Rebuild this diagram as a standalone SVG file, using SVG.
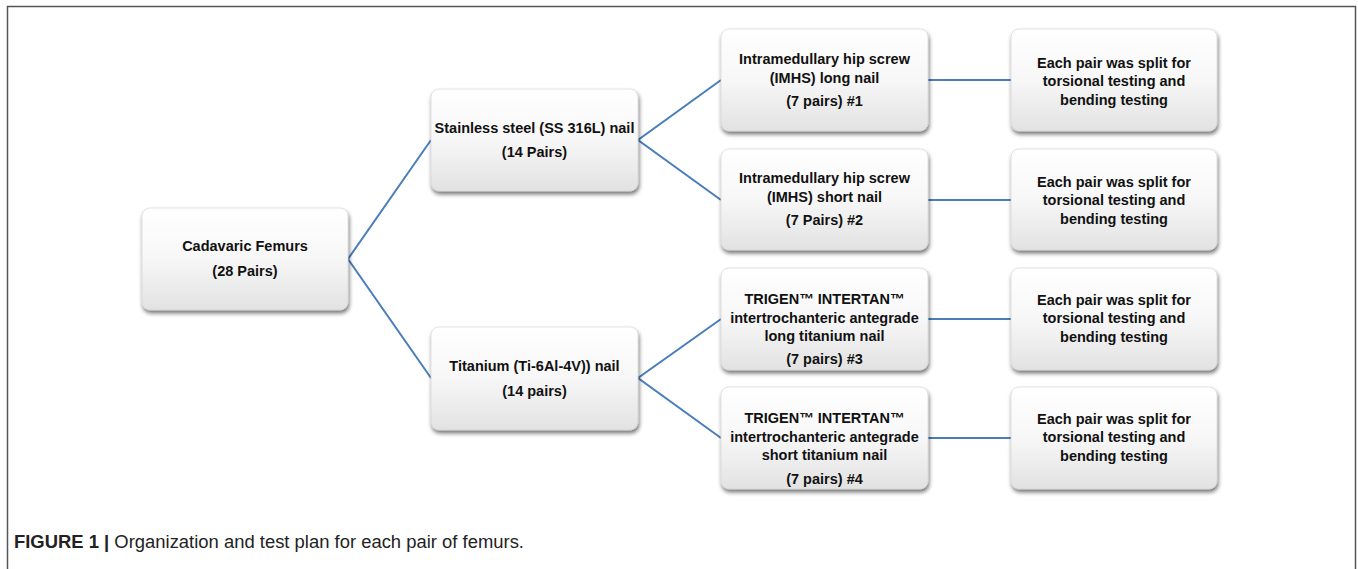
<svg xmlns="http://www.w3.org/2000/svg" width="1358" height="569" viewBox="0 0 1358 569">
<defs>
<linearGradient id="g" x1="0" y1="0" x2="0" y2="1">
<stop offset="0" stop-color="#ffffff"/>
<stop offset="0.5" stop-color="#f7f7f7"/>
<stop offset="1" stop-color="#e2e2e2"/>
</linearGradient>
<filter id="sh" x="-10%" y="-10%" width="125%" height="130%">
<feGaussianBlur in="SourceAlpha" stdDeviation="2"/>
<feOffset dx="1" dy="3" result="b"/>
<feComponentTransfer><feFuncA type="linear" slope="0.55"/></feComponentTransfer>
<feMerge><feMergeNode/><feMergeNode in="SourceGraphic"/></feMerge>
</filter>
</defs>
<style>
.box{fill:url(#g);stroke:#d0d0d0;stroke-width:0.6;filter:url(#sh)}
.t{font-family:"Liberation Sans",Arial,sans-serif;font-weight:bold;font-size:14.5px;fill:#111;text-anchor:middle}
.c{stroke:#4a7ebb;stroke-width:2;fill:none}
.cap{font-family:"Liberation Sans",Arial,sans-serif;font-size:17.5px;fill:#222}
</style>
<rect x="7.5" y="6.5" width="1348" height="580" fill="#fff" stroke="#555" stroke-width="1.5"/>
<g id="connectors">
<polyline class="c" points="431,140 348,259 431,378"/>
<polyline class="c" points="721,80 638,140 721,200"/>
<polyline class="c" points="721,319 638,378 721,438"/>
<line class="c" x1="928" y1="80" x2="1011" y2="80"/>
<line class="c" x1="928" y1="200" x2="1011" y2="200"/>
<line class="c" x1="928" y1="319" x2="1011" y2="319"/>
<line class="c" x1="928" y1="438" x2="1011" y2="438"/>
</g>
<g id="root">
<rect class="box" x="142" y="208" width="206" height="102" rx="8"/>
<text class="t" x="245" y="251">Cadavaric Femurs</text>
<text class="t" x="245" y="276">(28 Pairs)</text>
</g>
<g id="ss">
<rect class="box" x="431" y="89" width="207" height="102" rx="8"/>
<text class="t" x="534.5" y="133">Stainless steel (SS 316L) nail</text>
<text class="t" x="534.5" y="157">(14 Pairs)</text>
</g>
<g id="ti">
<rect class="box" x="431" y="327" width="207" height="103" rx="8"/>
<text class="t" x="534.5" y="371">Titanium (Ti-6Al-4V)) nail</text>
<text class="t" x="534.5" y="396">(14 pairs)</text>
</g>
<g id="n1">
<rect class="box" x="721" y="29" width="207" height="102" rx="8"/>
<text class="t" x="824.5" y="64">Intramedullary hip screw</text>
<text class="t" x="824.5" y="83">(IMHS) long nail</text>
<text class="t" x="824.5" y="106">(7 pairs) #1</text>
</g>
<g id="n2">
<rect class="box" x="721" y="149" width="207" height="101" rx="8"/>
<text class="t" x="824.5" y="183">Intramedullary hip screw</text>
<text class="t" x="824.5" y="202">(IMHS) short nail</text>
<text class="t" x="824.5" y="225">(7 Pairs) #2</text>
</g>
<g id="n3">
<rect class="box" x="721" y="268" width="207" height="102" rx="8"/>
<text class="t" x="824.5" y="304">TRIGEN™ INTERTAN™</text>
<text class="t" x="824.5" y="323">intertrochanteric antegrade</text>
<text class="t" x="824.5" y="341">long titanium nail</text>
<text class="t" x="824.5" y="364">(7 pairs) #3</text>
</g>
<g id="n4">
<rect class="box" x="721" y="387" width="207" height="102" rx="8"/>
<text class="t" x="824.5" y="423">TRIGEN™ INTERTAN™</text>
<text class="t" x="824.5" y="442">intertrochanteric antegrade</text>
<text class="t" x="824.5" y="460">short titanium nail</text>
<text class="t" x="824.5" y="484">(7 pairs) #4</text>
</g>
<g id="e1">
<rect class="box" x="1011" y="29" width="206" height="102" rx="8"/>
<text class="t" x="1114" y="68">Each pair was split for</text>
<text class="t" x="1114" y="86">torsional testing and</text>
<text class="t" x="1114" y="105">bending testing</text>
</g>
<g id="e2">
<rect class="box" x="1011" y="149" width="206" height="101" rx="8"/>
<text class="t" x="1114" y="187">Each pair was split for</text>
<text class="t" x="1114" y="205">torsional testing and</text>
<text class="t" x="1114" y="224">bending testing</text>
</g>
<g id="e3">
<rect class="box" x="1011" y="268" width="206" height="102" rx="8"/>
<text class="t" x="1114" y="305">Each pair was split for</text>
<text class="t" x="1114" y="323">torsional testing and</text>
<text class="t" x="1114" y="342">bending testing</text>
</g>
<g id="e4">
<rect class="box" x="1011" y="387" width="206" height="102" rx="8"/>
<text class="t" x="1114" y="424">Each pair was split for</text>
<text class="t" x="1114" y="442">torsional testing and</text>
<text class="t" x="1114" y="461">bending testing</text>
</g>
<text class="cap" x="14" y="548" textLength="510" lengthAdjust="spacingAndGlyphs"><tspan font-weight="bold">FIGURE 1 |</tspan> Organization and test plan for each pair of femurs.</text>
</svg>
